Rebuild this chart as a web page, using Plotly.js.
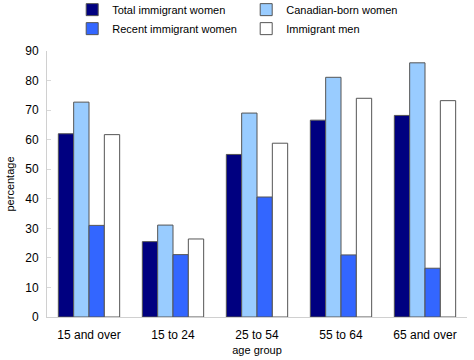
<!DOCTYPE html>
<html><head><meta charset="utf-8">
<script src="https://cdn.plot.ly/plotly-3.0.1.min.js"></script>
<style>html,body{margin:0;padding:0;background:#fff}#c{width:474px;height:360px}</style>
</head><body><div id="c"></div>
<script>
const categories = ["15 and over", "15 to 24", "25 to 54", "55 to 64", "65 and over"];
const totalImmigrantWomen = [62.0, 25.5, 55.0, 66.6, 68.2];
const canadianBornWomen = [72.7, 31.1, 69.0, 81.1, 86.0];
const recentImmigrantWomen = [31.0, 21.1, 40.6, 21.0, 16.5];
const immigrantMen = [61.7, 26.4, 58.8, 74.0, 73.2];
const seriesNames = ["Total immigrant women", "Canadian-born women", "Recent immigrant women", "Immigrant men"];
const colors = ["#000080", "#99ccff", "#3366ff", "#ffffff"];
const allValues = [totalImmigrantWomen, canadianBornWomen, recentImmigrantWomen, immigrantMen];

const traces = allValues.map((v, i) => ({
  type: 'bar', x: categories, y: v, name: seriesNames[i],
  marker: {color: colors[i], line: {color: '#555555', width: 1}},
  hoverinfo: 'none'
}));

const layout = {
  width: 474, height: 360,
  margin: {l: 47, r: 7, t: 51, b: 43, autoexpand: false},
  paper_bgcolor: '#fff', plot_bgcolor: '#fff',
  font: {family: 'Liberation Sans, Arial, sans-serif', size: 12, color: '#000'},
  barmode: 'group', bargap: 0.27, bargroupgap: 0,
  showlegend: true,
  legend: {orientation: 'h', x: 0.06, xanchor: 'left', y: 1.21, yanchor: 'top',
    entrywidth: 129, entrywidthmode: 'pixels', traceorder: 'normal',
    font: {size: 11}, itemwidth: 30, tracegroupgap: 0, bgcolor: 'rgba(0,0,0,0)'},
  xaxis: {type: 'category', showline: true, linecolor: '#d0d0d0', linewidth: 1,
    ticks: '', showgrid: false, tickfont: {size: 12}, ticklabelstandoff: 7,
    title: {text: 'age group', font: {size: 11}, standoff: 4}},
  yaxis: {range: [0, 90], dtick: 10, showline: true, linecolor: '#d0d0d0', linewidth: 1,
    ticks: 'inside', ticklen: 4, tickcolor: '#d8d8d8', showgrid: false, zeroline: false,
    tickfont: {size: 12}, ticklabelstandoff: 5,
    title: {text: 'percentage', font: {size: 11}, standoff: 8}}
};
Plotly.newPlot('c', traces, layout, {staticPlot: true});
</script></body></html>
